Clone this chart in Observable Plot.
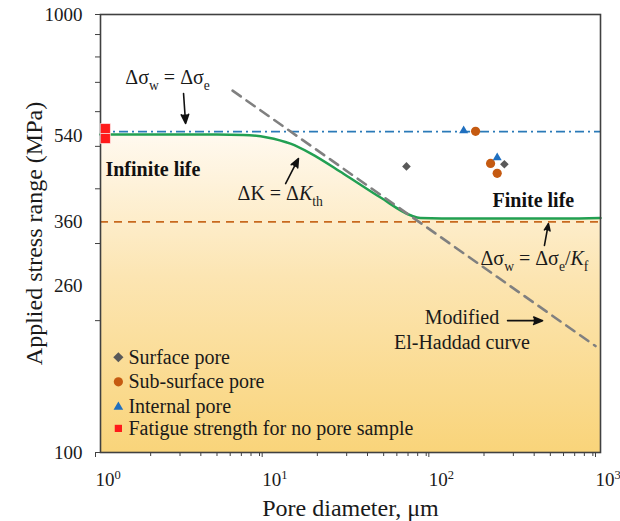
<!DOCTYPE html>
<html>
<head>
<meta charset="utf-8">
<script src="https://cdn.jsdelivr.net/npm/d3@7"></script>
<script src="https://cdn.jsdelivr.net/npm/@observablehq/plot@0.6"></script>
<style>
  html, body { margin: 0; padding: 0; background: #fff; }
  #chart { width: 620px; height: 521px; }
</style>
</head>
<body>
<div id="chart"></div>
<script>
// ---------------- data ----------------
// Green threshold curve (pore diameter in µm, stress range in MPa)
const curveD = [1, 5, 7.2, 10, 13.8, 18.2, 28.7, 47.9, 72.4, 83, 150, 300, 600, 1000];
const curveS = [532, 532, 531, 524, 507, 482, 433, 382, 348, 343, 342, 342, 342, 343];
// Modified El-Haddad curve (straight dashed segment)
const haddadD = [6.2, 933];
const haddadS = [670, 175];
// Horizontal limits
const enduranceLimit = [540];   // Δσw = Δσe
const reducedLimit = [336];     // Δσw = Δσe/Kf
// Experimental points
const surfaceD = [68.5, 265];
const surfaceS = [450, 455];
const subSurfaceD = [178, 219, 240];
const subSurfaceS = [541, 457, 434];
const internalD = [151, 240];
const internalS = [543, 471];
const noPoreD = [1.07, 1.07];
const noPoreS = [549, 521];

// Ticks
const xMajorTicks = [1, 10, 100, 1000];
const xTickLabels = ["10{^0}", "10{^1}", "10{^2}", "10{^3}"];
const xMinorTicks = [2, 3, 4, 5, 6, 7, 8, 9, 20, 30, 40, 50, 60, 70, 80, 90, 200, 300, 400, 500, 600, 700, 800, 900];
const yMinorTicks = [100, 200, 300, 400, 500, 600, 700, 800, 900, 1000];
const yLabelPos = [100, 240, 336, 529, 1000];
const yTickLabels = ["100", "260", "360", "540", "1000"];

// Annotations
const annoText = ["Δσ{_w} = Δσ{_e}", "ΔK = Δ{/K}{_th}", "Δσ{_w} = Δσ{_e}/{/K}{_f}"];
const annoX = [1.41, 6.64, 190.5];
const annoY = [718, 390, 277];
const curveNote = ["Modified", "El-Haddad curve"];
const curveNoteX = [147.5, 147.5];
const curveNoteY = [203, 178];
const lifeText = ["Infinite life", "Finite life"];
const lifeX = [1.07, 225];
const lifeY = [443, 376];
const arrowX1 = [3.15, 12.9, 461, 277];
const arrowY1 = [660, 411, 297, 200];
const arrowX2 = [3.24, 15.4, 487, 449];
const arrowY2 = [564, 469, 333, 200];

// Legend
const legendLabels = ["Surface pore", "Sub-surface pore", "Internal pore", "Fatigue strength for no pore sample"];
const legendSymbols = ["diamond2", "circle", "triangle2", "square2"];
const legendColors = ["#595959", "#c55a11", "#1f6fbf", "#ff1a1a"];
const legendY = [165, 145, 127, 113.5];
const legendMarkX = 1.28, legendTextX = 1.47;

// ---------------- tables built from the arrays ----------------
const curveRows = curveD.map((d, i) => ({d, s: curveS[i]}));
const haddadRows = haddadD.map((d, i) => ({d, s: haddadS[i]}));
const pts = (D, S) => D.map((d, i) => ({d, s: S[i]}));
const annoRows = annoText.map((t, i) => ({t, x: annoX[i], y: annoY[i]}));
const noteRows = curveNote.map((t, i) => ({t, x: curveNoteX[i], y: curveNoteY[i]}));
const lifeRows = lifeText.map((t, i) => ({t, x: lifeX[i], y: lifeY[i]}));
const arrowRows = arrowX1.map((x1, i) => ({x1, y1: arrowY1[i], x2: arrowX2[i], y2: arrowY2[i]}));
const legendRows = legendLabels.map((t, i) => ({t, sym: legendSymbols[i], c: legendColors[i], y: legendY[i]}));
const xLabelMap = new Map(xMajorTicks.map((v, i) => [v, xTickLabels[i]]));
const yLabelMap = new Map(yLabelPos.map((v, i) => [v, yTickLabels[i]]));

const serif = "'Liberation Serif','Times New Roman',serif";

const svg = Plot.plot({
  width: 620,
  height: 521,
  marginLeft: 100,
  marginRight: 20,
  marginTop: 14,
  marginBottom: 69,
  style: {fontFamily: serif, fontSize: "19px", color: "#1a1a1a", background: "#fff", overflow: "visible"},
  x: {type: "log", domain: [1, 1000], label: null},
  y: {type: "log", domain: [100, 1000], label: null},
  marks: [
    Plot.areaY(curveRows, {x: "d", y1: 100, y2: "s", fill: "url(#lifeGrad)", curve: "monotone-x"}),
    Plot.ruleY(enduranceLimit, {stroke: "#2a7ab8", strokeWidth: 1.7, strokeDasharray: "9,4,2,4"}),
    Plot.ruleY(reducedLimit, {stroke: "#c8691e", strokeWidth: 1.7, strokeDasharray: "8,6"}),
    Plot.line(curveRows, {x: "d", y: "s", stroke: "#22a052", strokeWidth: 2.5, curve: "monotone-x"}),
    Plot.line(haddadRows, {x: "d", y: "s", stroke: "#808080", strokeWidth: 2.6, strokeDasharray: "10,7"}),
    Plot.frame({stroke: "#404040", strokeWidth: 1.6}),
    // axes
    Plot.axisX({ticks: xMinorTicks, tickFormat: () => "", tickSize: 4, label: null, stroke: "#404040"}),
    Plot.axisX({ticks: xMajorTicks, tickFormat: d => xLabelMap.get(d), tickSize: 5, tickPadding: 15,
      textAnchor: "start", dx: -5, fontSize: 19, label: null, stroke: "#404040"}),
    Plot.axisY({ticks: yMinorTicks, tickFormat: () => "", tickSize: 5, label: null, stroke: "#404040"}),
    Plot.axisY({ticks: yLabelPos, tickFormat: d => yLabelMap.get(d), tickSize: 0, tickPadding: 18,
      fontSize: 19, label: null}),
    // axis titles
    Plot.text(["Pore diameter, μm"], {text: d => d, frameAnchor: "bottom", textAnchor: "middle", lineAnchor: "middle", dy: 56, fontSize: 24}),
    Plot.text(["Applied stress range (MPa)"], {text: d => d, frameAnchor: "left", textAnchor: "middle", lineAnchor: "middle", dx: -66, rotate: -90, fontSize: 24}),
    // data points
    Plot.dot(pts(surfaceD, surfaceS), {x: "d", y: "s", symbol: "diamond2", r: 3.9, fill: "#595959"}),
    Plot.dot(pts(subSurfaceD, subSurfaceS), {x: "d", y: "s", symbol: "circle", r: 4.6, fill: "#c55a11"}),
    Plot.dot(pts(internalD, internalS), {x: "d", y: "s", symbol: "triangle2", r: 4.3, fill: "#1f6fbf"}),
    Plot.dot(pts(noPoreD, noPoreS), {x: "d", y: "s", symbol: "square2", r: 6.4, fill: "#ff1a1a", stroke: "#fff", strokeWidth: 0.6}),
    // annotations
    Plot.arrow(arrowRows, {x1: "x1", y1: "y1", x2: "x2", y2: "y2", stroke: "#111", fill: "#111", strokeWidth: 1.6, headLength: 9, headAngle: 45}),
    Plot.text(annoRows, {x: "x", y: "y", text: "t", textAnchor: "start", fontSize: 20, fill: "#1a1a1a"}),
    Plot.text(noteRows, {x: "x", y: "y", text: "t", textAnchor: "middle", fontSize: 20, fill: "#1a1a1a"}),
    Plot.text(lifeRows, {x: "x", y: "y", text: "t", textAnchor: "start", fontSize: 20, fontWeight: "bold", fill: "#111"}),
    // legend
    Plot.dot(legendRows, {x: () => legendMarkX, y: "y", symbol: "sym", fill: "c", r: 4.6}),
    Plot.text(legendRows, {x: () => legendTextX, y: "y", text: "t", textAnchor: "start", fontSize: 20, fill: "#1a1a1a"})
  ]
});

// gradient for the safe (infinite-life) region
const ns = "http://www.w3.org/2000/svg";
const defs = document.createElementNS(ns, "defs");
defs.innerHTML = '<linearGradient id="lifeGrad" x1="0" y1="0" x2="0" y2="1">' +
  '<stop offset="0" stop-color="#fff9ef"/><stop offset="0.45" stop-color="#fce5b2"/>' +
  '<stop offset="1" stop-color="#f9d47a"/></linearGradient>';
svg.insertBefore(defs, svg.firstChild);

document.getElementById("chart").appendChild(svg);

// rich text: {_x} subscript, {^x} superscript, {/x} italic
function richify(root) {
  root.querySelectorAll("text").forEach(t => {
    const s = t.textContent;
    if (!s.includes("{")) return;
    const fs = parseFloat(getComputedStyle(t).fontSize) || 20;
    while (t.firstChild) t.removeChild(t.firstChild);
    const re = /\{([_^\/])([^}]*)\}|([^{]+)/g;
    let m, shift = 0;
    while ((m = re.exec(s))) {
      const ts = document.createElementNS(ns, "tspan");
      let target = 0;
      if (m[3] !== undefined) {
        ts.textContent = m[3];
      } else {
        ts.textContent = m[2];
        if (m[1] === "_") { ts.setAttribute("font-size", (fs * 0.68).toFixed(1)); target = fs * 0.28; }
        else if (m[1] === "^") { ts.setAttribute("font-size", (fs * 0.66).toFixed(1)); target = -fs * 0.38; }
        else { ts.setAttribute("font-style", "italic"); }
      }
      if (Math.abs(target - shift) > 0.01) { ts.setAttribute("dy", (target - shift).toFixed(2)); shift = target; }
      t.appendChild(ts);
    }
  });
}
richify(svg);
</script>
</body>
</html>
